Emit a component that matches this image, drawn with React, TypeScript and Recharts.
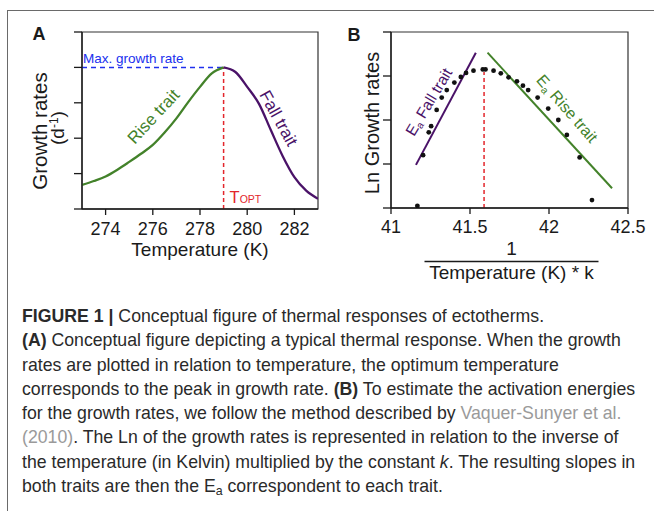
import React from 'react';
import {
  LineChart,
  Line,
  XAxis,
  YAxis,
  ReferenceLine,
  ReferenceArea,
  ReferenceDot,
  ScatterChart,
  Scatter,
} from 'recharts';

// ---------- Panel A data ----------
const riseTemp = [273, 273.5, 274, 274.5, 275, 275.5, 276, 276.5, 277, 277.5, 278, 278.5, 279];
const riseRate = [0.68, 0.79, 0.92, 1.11, 1.33, 1.56, 1.81, 2.16, 2.56, 3.02, 3.45, 3.83, 4.0];
const fallTemp = [279, 279.5, 280, 280.5, 281, 281.5, 282, 282.5, 283];
const fallRate = [4.0, 3.87, 3.45, 2.97, 2.23, 1.5, 0.9, 0.52, 0.29];
const tempTicks = [274, 276, 278, 280, 282];
const rateTicks = [0, 1, 2, 3, 4, 5];
const T_OPT = 279;
const MAX_RATE = 4.0;

// ---------- Panel B data ----------
const invTemp = [
  41.167, 41.203, 41.239, 41.254, 41.289, 41.321, 41.353, 41.401, 41.442, 41.475, 41.522, 41.581,
  41.598, 41.649, 41.695, 41.744, 41.797, 41.835, 41.868, 41.928, 41.995, 42.059, 42.113, 42.194, 42.272,
];
const lnRate = [
  0.05, 1.2, 1.72, 1.86, 2.23, 2.51, 2.68, 2.85, 2.98, 3.07, 3.12, 3.15,
  3.15, 3.12, 3.06, 2.97, 2.88, 2.78, 2.68, 2.51, 2.26, 2.0, 1.66, 1.15, 0.18,
];
const fallFitX = [41.158, 41.537];
const fallFitY = [0.98, 3.53];
const riseFitX = [41.611, 42.399];
const riseFitY = [3.53, 0.45];
const OPT_INV = 41.589;
const OPT_LN = 3.09;
const invTicks = [41, 41.5, 42, 42.5];
const lnTicks = [0, 1, 2, 3, 4];

const GREEN = '#43822a';
const PURPLE = '#4a1268';
const RED = '#e3262c';
const BLUE = '#2030ee';
const INK = '#1a1a1a';
const FONT = "'Liberation Sans', Arial, Helvetica, sans-serif";
const CAPTION_FONT = "'Liberation Sans', Arial, sans-serif";

const allTemps = Array.from(new Set([...riseTemp, ...fallTemp])).sort((a, b) => a - b);
const dataA = allTemps.map((t) => {
  const ri = riseTemp.indexOf(t);
  const fi = fallTemp.indexOf(t);
  return { t, rise: ri >= 0 ? riseRate[ri] : null, fall: fi >= 0 ? fallRate[fi] : null };
});
const dataB = invTemp.map((x, i) => ({ x, y: lnRate[i] }));

const center = (vb: any) => ({
  cx: vb.x + (vb.width || 0) / 2,
  cy: vb.y + (vb.height || 0) / 2,
});

const rotText = (text: string, angle: number, color: string, size: number, withEa = false) =>
  (props: any) => {
    const { cx, cy } = center(props.viewBox);
    return (
      <text
        x={cx}
        y={cy}
        transform={`rotate(${angle} ${cx} ${cy})`}
        textAnchor="middle"
        dominantBaseline="central"
        fill={color}
        fontSize={size}
        fontFamily={FONT}
      >
        {withEa ? (
          <>
            <tspan>E</tspan>
            <tspan fontSize={size * 0.65} dy={size * 0.3}>a</tspan>
            <tspan dy={-size * 0.3}>{' ' + text}</tspan>
          </>
        ) : (
          text
        )}
      </text>
    );
  };

const maxLabel = (props: any) => {
  const { cx, cy } = center(props.viewBox);
  return (
    <text x={cx + 1} y={cy - 4} fill={BLUE} fontSize={13.5} fontFamily={FONT}>
      Max. growth rate
    </text>
  );
};

const toptLabel = (props: any) => {
  const { cx, cy } = center(props.viewBox);
  return (
    <text x={cx + 6} y={cy - 6} fill={RED} fontFamily={FONT}>
      <tspan fontSize={16.5}>T</tspan>
      <tspan fontSize={10.5}>OPT</tspan>
    </text>
  );
};

const yLabelA = (props: any) => {
  const vb = props.viewBox;
  const gx = vb.x + 46.5;
  const gy = vb.y + 99;
  const dx = vb.x + 64;
  const dyc = vb.y + 96;
  return (
    <g fontFamily={FONT}>
      <text x={vb.x + 39} y={vb.y + 8} textAnchor="middle" fontWeight="bold" fontSize={18} fill={INK}>
        A
      </text>
      <text x={gx} y={gy} transform={`rotate(-90 ${gx} ${gy})`} textAnchor="middle" fontSize={20.5} fill={INK}>
        Growth rates
      </text>
      <text x={dx} y={dyc} transform={`rotate(-90 ${dx} ${dyc})`} textAnchor="middle" fontSize={19} fill={INK}>
        (d<tspan fontSize={12} dy={-6}>-1</tspan>
        <tspan dy={6}>)</tspan>
      </text>
    </g>
  );
};

const xLabelA = (props: any) => {
  const vb = props.viewBox;
  return (
    <text x={vb.x + vb.width / 2} y={vb.y + 47} textAnchor="middle" fontSize={19} fill={INK} fontFamily={FONT}>
      Temperature (K)
    </text>
  );
};

const yLabelB = (props: any) => {
  const vb = props.viewBox;
  const cy = vb.y + 91;
  return (
    <g fontFamily={FONT}>
      <text x={vb.x + 24} y={vb.y + 8.7} textAnchor="middle" fontWeight="bold" fontSize={18} fill={INK}>
        B
      </text>
      <text x={vb.x + 49} y={cy} transform={`rotate(-90 ${vb.x + 49} ${cy})`} textAnchor="middle" fontSize={20} fill={INK}>
        Ln Growth rates
      </text>
    </g>
  );
};

const xLabelB = (props: any) => {
  const vb = props.viewBox;
  const cx = vb.x + vb.width / 2 + 2;
  return (
    <g fontFamily={FONT} fill={INK}>
      <text x={cx} y={vb.y + 47} textAnchor="middle" fontSize={19}>
        1
      </text>
      <line x1={cx - 87} x2={cx + 87} y1={vb.y + 53.5} y2={vb.y + 53.5} stroke={INK} strokeWidth={1.3} />
      <text x={cx} y={vb.y + 71} textAnchor="middle" fontSize={19}>
        Temperature (K) * k
      </text>
    </g>
  );
};

const dotShape = (p: any) => <circle cx={p.cx} cy={p.cy} r={2.4} fill="#111" />;

const axisLine = { stroke: INK, strokeWidth: 1.3 };
const tickStyle = { fontSize: 18, fill: INK, fontFamily: FONT };

const gray = { color: '#9a9a9a' };

const captionLines: React.ReactNode[] = [
  <>
    <b>FIGURE 1 |</b> Conceptual figure of thermal responses of ectotherms.
  </>,
  <>
    <b>(A)</b> Conceptual figure depicting a typical thermal response. When the growth
  </>,
  <>rates are plotted in relation to temperature, the optimum temperature</>,
  <>
    corresponds to the peak in growth rate. <b>(B)</b> To estimate the activation energies
  </>,
  <>
    for the growth rates, we follow the method described by <span style={gray}>Vaquer-Sunyer et al.</span>
  </>,
  <>
    <span style={gray}>(2010)</span>. The Ln of the growth rates is represented in relation to the inverse of
  </>,
  <>
    the temperature (in Kelvin) multiplied by the constant <i>k</i>. The resulting slopes in
  </>,
  <>
    both traits are then the E<sub style={{ fontSize: '0.7em', verticalAlign: '-0.25em' }}>a</sub> correspondent to each trait.
  </>,
];

export default function App() {
  return (
    <div
      style={{
        position: 'absolute',
        left: 0,
        top: 0,
        width: 654,
        height: 511,
        background: '#fff',
        overflow: 'hidden',
        fontFamily: FONT,
      }}
    >
      <div
        style={{
          position: 'absolute',
          left: 7,
          top: 10,
          width: 700,
          height: 600,
          borderTop: '1.5px solid #6a6a6a',
          borderLeft: '1.5px solid #6a6a6a',
        }}
      />
      <div style={{ position: 'absolute', left: 0, top: 0 }}>
        <LineChart width={330} height={290} data={dataA} margin={{ top: 32, right: 12, bottom: 36, left: 0 }}>
          <ReferenceArea x1={273} x2={283} y1={0} y2={5} fill="none" stroke="#333" strokeWidth={1.2} ifOverflow="visible" />
          <XAxis
            dataKey="t"
            type="number"
            domain={[273, 283]}
            ticks={tempTicks}
            allowDataOverflow
            height={45}
            tickSize={6}
            tickMargin={7}
            axisLine={axisLine}
            tickLine={axisLine}
            tick={tickStyle}
            label={xLabelA}
          />
          <YAxis
            type="number"
            domain={[0, 5]}
            ticks={rateTicks}
            allowDataOverflow
            width={82}
            tickSize={8}
            tickFormatter={() => ''}
            axisLine={axisLine}
            tickLine={axisLine}
            label={yLabelA}
          />
          <ReferenceLine
            segment={[{ x: 273, y: MAX_RATE }, { x: T_OPT, y: MAX_RATE }]}
            stroke={BLUE}
            strokeDasharray="5 4"
            strokeWidth={1.5}
            ifOverflow="visible"
          />
          <ReferenceLine
            segment={[{ x: T_OPT, y: 0 }, { x: T_OPT, y: MAX_RATE }]}
            stroke={RED}
            strokeDasharray="4 3"
            strokeWidth={1.5}
            ifOverflow="visible"
          />
          <Line dataKey="rise" type="monotone" stroke={GREEN} strokeWidth={2.3} dot={false} isAnimationActive={false} />
          <Line dataKey="fall" type="monotone" stroke={PURPLE} strokeWidth={2.3} dot={false} isAnimationActive={false} />
          <ReferenceDot x={273} y={MAX_RATE} r={0} fill="none" stroke="none" label={maxLabel} ifOverflow="visible" />
          <ReferenceDot x={T_OPT} y={0} r={0} fill="none" stroke="none" label={toptLabel} ifOverflow="visible" />
          <ReferenceDot x={276.03} y={2.61} r={0} fill="none" stroke="none" label={rotText('Rise trait', -47, GREEN, 17)} ifOverflow="visible" />
          <ReferenceDot x={281.32} y={2.56} r={0} fill="none" stroke="none" label={rotText('Fall trait', 61, PURPLE, 17)} ifOverflow="visible" />
        </LineChart>
      </div>
      <div style={{ position: 'absolute', left: 330, top: 0 }}>
        <ScatterChart width={324} height={290} margin={{ top: 32, right: 26, bottom: 12, left: 0 }}>
          <ReferenceArea x1={41} x2={42.5} y1={0} y2={4} fill="none" stroke="#333" strokeWidth={1.2} ifOverflow="visible" />
          <XAxis
            dataKey="x"
            type="number"
            domain={[41, 42.5]}
            ticks={invTicks}
            allowDataOverflow
            height={70}
            tickSize={6}
            tickMargin={6}
            axisLine={axisLine}
            tickLine={axisLine}
            tick={tickStyle}
            label={xLabelB}
          />
          <YAxis
            dataKey="y"
            type="number"
            domain={[0, 4]}
            ticks={lnTicks}
            allowDataOverflow
            width={61}
            tickSize={8}
            tickFormatter={() => ''}
            axisLine={axisLine}
            tickLine={axisLine}
            label={yLabelB}
          />
          <ReferenceLine
            segment={[{ x: fallFitX[0], y: fallFitY[0] }, { x: fallFitX[1], y: fallFitY[1] }]}
            stroke={PURPLE}
            strokeWidth={2}
            ifOverflow="visible"
          />
          <ReferenceLine
            segment={[{ x: riseFitX[0], y: riseFitY[0] }, { x: riseFitX[1], y: riseFitY[1] }]}
            stroke={GREEN}
            strokeWidth={2}
            ifOverflow="visible"
          />
          <ReferenceLine
            segment={[{ x: OPT_INV, y: 0 }, { x: OPT_INV, y: OPT_LN }]}
            stroke={RED}
            strokeDasharray="4 3"
            strokeWidth={1.5}
            ifOverflow="visible"
          />
          <Scatter data={dataB} shape={dotShape} isAnimationActive={false} />
          <ReferenceDot x={41.236} y={2.42} r={0} fill="none" stroke="none" label={rotText('Fall trait', -59, PURPLE, 15.5, true)} ifOverflow="visible" />
          <ReferenceDot x={42.117} y={2.265} r={0} fill="none" stroke="none" label={rotText('Rise trait', 49, GREEN, 16, true)} ifOverflow="visible" />
        </ScatterChart>
      </div>
      <div
        style={{
          position: 'absolute',
          left: 22,
          top: 304,
          fontFamily: CAPTION_FONT,
          fontSize: 17.7,
          lineHeight: '24.3px',
          color: '#2a2a2a',
          whiteSpace: 'nowrap',
        }}
      >
        {captionLines.map((l, i) => (
          <div key={i} style={{ height: 24.3 }}>
            {l}
          </div>
        ))}
      </div>
    </div>
  );
}
